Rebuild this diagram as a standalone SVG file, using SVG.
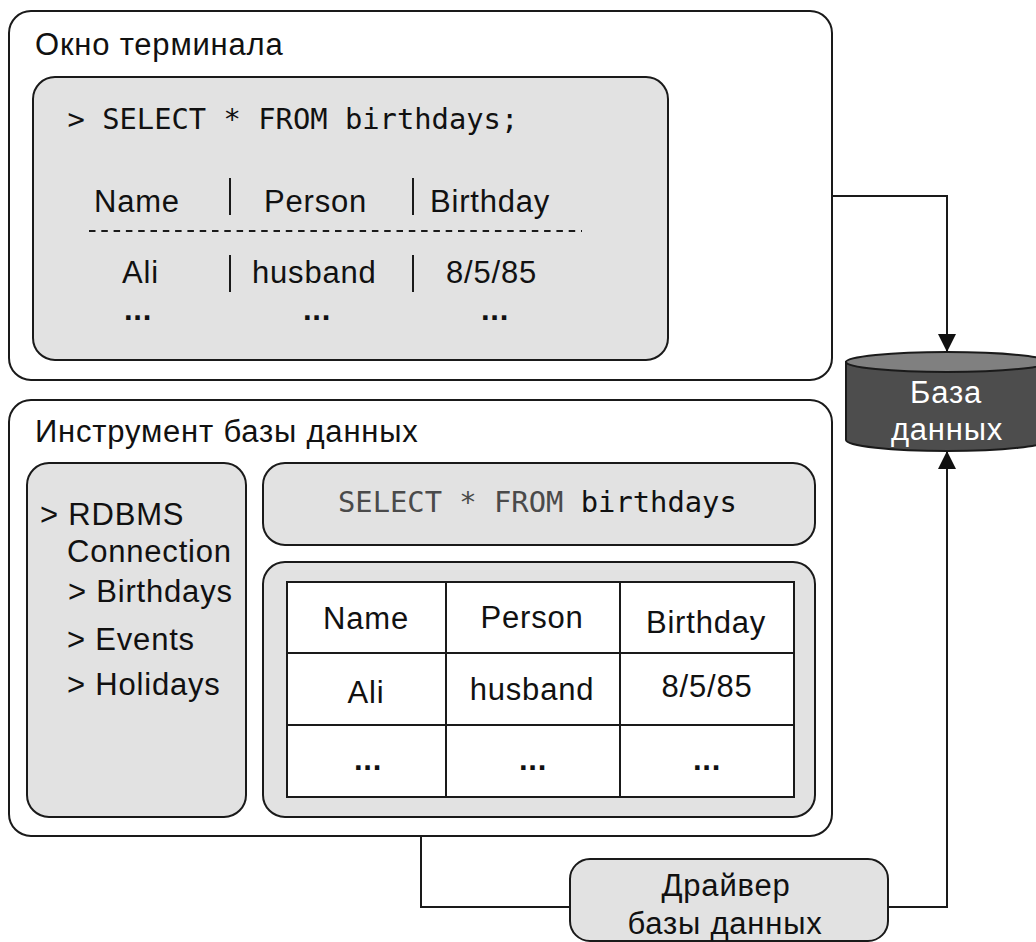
<svg xmlns="http://www.w3.org/2000/svg" width="1036" height="942" viewBox="0 0 1036 942">
  <style>
    .frame { fill: #ffffff; stroke: #1a1a1a; stroke-width: 2; }
    .panel { fill: #e2e2e2; stroke: #1a1a1a; stroke-width: 2; }
    .cell { fill: #ffffff; stroke: #1a1a1a; stroke-width: 2; }
    .sans { font-family: "Liberation Sans", Arial, sans-serif; font-size: 31px; letter-spacing: 0.8px; fill: #111111; }
    .dots { font-weight: bold; }
    .mid { text-anchor: middle; }
    .mono { font-family: "DejaVu Sans Mono", "Liberation Mono", monospace; font-size: 28.8px; fill: #111111; }
    .kw { fill: #4a4a4a; }
    .sep { stroke: #1a1a1a; stroke-width: 2; }
    .conn { fill: none; stroke: #1a1a1a; stroke-width: 2; }
  </style>
  <defs>
    <marker id="arrow" markerUnits="userSpaceOnUse" markerWidth="18" markerHeight="18" viewBox="0 0 18 18" refX="17" refY="9" orient="auto">
      <path d="M0,0 L18,9 L0,18 Z" fill="#111111"/>
    </marker>
  </defs>

  <g id="terminal-window">
    <rect class="frame" x="9" y="11" width="823" height="369" rx="22"/>
    <text class="sans" x="35" y="55">Окно терминала</text>
    <rect class="panel" x="33" y="77" width="635" height="283" rx="22"/>
    <text class="mono" x="67.5" y="129">&gt; SELECT * FROM birthdays;</text>
    <text class="sans" x="94" y="212">Name</text>
    <text class="sans" x="264" y="212">Person</text>
    <text class="sans" x="430" y="212">Birthday</text>
    <line class="sep" x1="230" y1="178" x2="230" y2="215"/>
    <line class="sep" x1="413" y1="178" x2="413" y2="215"/>
    <line x1="89" y1="231" x2="582" y2="231" stroke="#1a1a1a" stroke-width="2" stroke-dasharray="6.5 5.8"/>
    <text class="sans" x="122" y="283">Ali</text>
    <text class="sans" x="252" y="283">husband</text>
    <text class="sans" x="446" y="283">8/5/85</text>
    <line class="sep" x1="230" y1="255" x2="230" y2="292"/>
    <line class="sep" x1="413" y1="255" x2="413" y2="292"/>
    <text class="sans mid dots" x="138" y="320">...</text>
    <text class="sans mid dots" x="317" y="320">...</text>
    <text class="sans mid dots" x="495" y="320">...</text>
  </g>

  <g id="database-tool">
    <rect class="frame" x="9" y="400" width="823" height="436" rx="22"/>
    <text class="sans" x="35" y="442">Инструмент базы данных</text>
    <rect class="panel" x="27" y="463" width="219" height="354" rx="22"/>
    <text class="sans" x="40" y="525">&gt; RDBMS</text>
    <text class="sans" x="67" y="562">Connection</text>
    <text class="sans" x="68" y="602">&gt; Birthdays</text>
    <text class="sans" x="67" y="650">&gt; Events</text>
    <text class="sans" x="67" y="695">&gt; Holidays</text>
    <rect class="panel" x="263" y="463" width="552" height="82" rx="22"/>
    <text class="mono" x="338" y="512"><tspan class="kw">SELECT * FROM</tspan> birthdays</text>
    <rect class="panel" x="263" y="562" width="552" height="255" rx="22"/>
    <rect class="cell" x="287" y="582" width="507" height="215"/>
    <line class="sep" x1="446" y1="582" x2="446" y2="797"/>
    <line class="sep" x1="620" y1="582" x2="620" y2="797"/>
    <line class="sep" x1="287" y1="653" x2="794" y2="653"/>
    <line class="sep" x1="287" y1="725" x2="794" y2="725"/>
    <text class="sans mid" x="366" y="629">Name</text>
    <text class="sans mid" x="532" y="628">Person</text>
    <text class="sans mid" x="706" y="633">Birthday</text>
    <text class="sans mid" x="366" y="703">Ali</text>
    <text class="sans mid" x="532" y="700">husband</text>
    <text class="sans mid" x="707" y="697">8/5/85</text>
    <text class="sans mid dots" x="368" y="770">...</text>
    <text class="sans mid dots" x="533" y="770">...</text>
    <text class="sans mid dots" x="707" y="770">...</text>
  </g>

  <g id="database">
    <path d="M846,362 L846,440 A101,11 0 0 0 1048,440 L1048,362 Z" fill="#4d4d4d" stroke="#1a1a1a" stroke-width="2"/>
    <ellipse cx="947" cy="362" rx="101" ry="10" fill="#808080" stroke="#1a1a1a" stroke-width="2"/>
    <text class="sans mid" x="946" y="403" style="fill:#ffffff">База</text>
    <text class="sans mid" x="947" y="440" style="fill:#ffffff">данных</text>
  </g>

  <g id="database-driver">
    <rect class="panel" x="570" y="859" width="318" height="82" rx="20"/>
    <text class="sans mid" x="726" y="896">Драйвер</text>
    <text class="sans mid" x="725" y="934">базы данных</text>
  </g>

  <g id="connectors">
    <path class="conn" d="M832,196 L947,196 L947,351" marker-end="url(#arrow)"/>
    <path class="conn" d="M421,836 L421,907 L570,907"/>
    <path class="conn" d="M888,907 L947,907 L947,452" marker-end="url(#arrow)"/>
  </g>
</svg>
